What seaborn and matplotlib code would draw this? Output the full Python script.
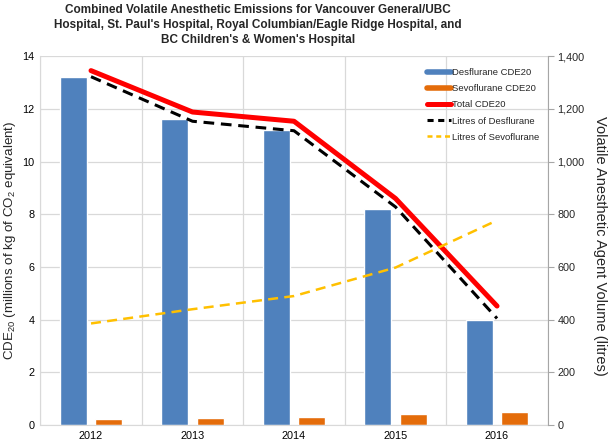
import numpy as np
import pandas as pd
import matplotlib
matplotlib.use("Agg")
import matplotlib.pyplot as plt
from matplotlib.lines import Line2D
from matplotlib.ticker import FuncFormatter, MultipleLocator
import seaborn as sns

# data
years = ["2012", "2013", "2014", "2015", "2016"]
desflurane_cde20 = [13.2, 11.6, 11.2, 8.2, 4.0]
sevoflurane_cde20 = [0.25, 0.29, 0.33, 0.41, 0.50]
total_cde20 = [13.45, 11.88, 11.53, 8.6, 4.52]
litres_desflurane = [1322, 1153, 1117, 828, 405]
litres_sevoflurane = [386, 440, 490, 598, 777]

sns.set_style("white")
plt.rcParams["font.family"] = ["Liberation Sans", "DejaVu Sans"]
plt.rcParams["mathtext.default"] = "regular"

blue = "#4F81BD"
orange = "#E46C0A"
red = "#FF0000"
yellow = "#FFC000"
grid_c = "#D9D9D9"

bars = pd.DataFrame({
    "year": years * 2,
    "value": desflurane_cde20 + sevoflurane_cde20,
    "series": ["Desflurane CDE20"] * 5 + ["Sevoflurane CDE20"] * 5,
})

fig, ax = plt.subplots(figsize=(6.1, 4.42), dpi=100)
fig.subplots_adjust(left=0.066, right=0.898, bottom=0.038, top=0.873)

sns.barplot(data=bars, x="year", y="value", hue="series",
            palette=[blue, orange], width=0.7, gap=0.25,
            saturation=1, legend=False, ax=ax)

# total line on the left axis
sns.pointplot(x=years, y=total_cde20, color=red, marker="", linestyle="-",
              lw=3.6, errorbar=None, ax=ax)

ax2 = ax.twinx()
sns.pointplot(x=years, y=litres_desflurane, color="black", marker="",
              linestyle=(0, (3.5, 2.2)), lw=2.2, errorbar=None, ax=ax2)
sns.pointplot(x=years, y=litres_sevoflurane, color=yellow, marker="",
              linestyle=(0, (4, 2.5)), lw=1.8, errorbar=None, ax=ax2)

ax.set_ylim(0, 14)
ax2.set_ylim(0, 1400)
ax.set_xlim(-0.5, 4.5)
ax.yaxis.set_major_locator(MultipleLocator(2))
ax2.yaxis.set_major_locator(MultipleLocator(200))
ax2.yaxis.set_major_formatter(FuncFormatter(lambda v, p: f"{int(v):,}"))

# gridlines: horizontal on left axis, vertical between categories
ax.set_axisbelow(True)
ax.grid(axis="y", color=grid_c, lw=0.9)
ax.set_xticks(np.arange(-0.5, 5, 1), minor=True)
ax.grid(axis="x", which="minor", color=grid_c, lw=0.9)
ax.tick_params(axis="x", which="minor", length=0)

ax.set_xlabel("")
ax.set_ylabel("CDE$_{20}$ (millions of kg of CO$_2$ equivalent)", fontsize=9.6,
              va="center")
ax.yaxis.set_label_coords(-0.059, 0.5)
ax2.set_ylabel("Volatile Anesthetic Agent Volume (litres)", fontsize=10.5,
               rotation=270, va="center")
ax2.yaxis.set_label_coords(1.102, 0.485)

ax.tick_params(axis="both", which="major", length=0, labelsize=7.8, pad=4, colors="black")
ax2.tick_params(axis="y", length=4, width=0.8, color="#A6A6A6", labelsize=7.8, pad=3)

for sp in ["top"]:
    ax.spines[sp].set_visible(False)
    ax2.spines[sp].set_visible(False)
ax.spines["left"].set_color(grid_c)
ax.spines["bottom"].set_color(grid_c)
ax.spines["right"].set_visible(False)
ax2.spines["left"].set_visible(False)
ax2.spines["bottom"].set_visible(False)
ax2.spines["right"].set_color("#A6A6A6")

handles = [
    Line2D([], [], color=blue, lw=4),
    Line2D([], [], color=orange, lw=4),
    Line2D([], [], color=red, lw=3.6),
    Line2D([], [], color="black", lw=2.2, linestyle=(0, (2, 1.5))),
    Line2D([], [], color=yellow, lw=1.8, linestyle=(0, (2, 1.5))),
]
labels = ["Desflurane CDE20", "Sevoflurane CDE20", "Total CDE20",
          "Litres of Desflurane", "Litres of Sevoflurane"]
ax2.legend(handles, labels, loc="upper right", bbox_to_anchor=(1.0, 0.99),
           frameon=False, fontsize=6.8, handlelength=2.6, handletextpad=0.1,
           labelspacing=0.75)

fig.text(0.423, 0.99,
         "Combined Volatile Anesthetic Emissions for Vancouver General/UBC\n"
         "Hospital, St. Paul's Hospital, Royal Columbian/Eagle Ridge Hospital, and\n"
         "BC Children's & Women's Hospital",
         ha="center", va="top", fontsize=8.5, fontweight="bold", linespacing=1.3)

fig.savefig("out.png", dpi=100)
